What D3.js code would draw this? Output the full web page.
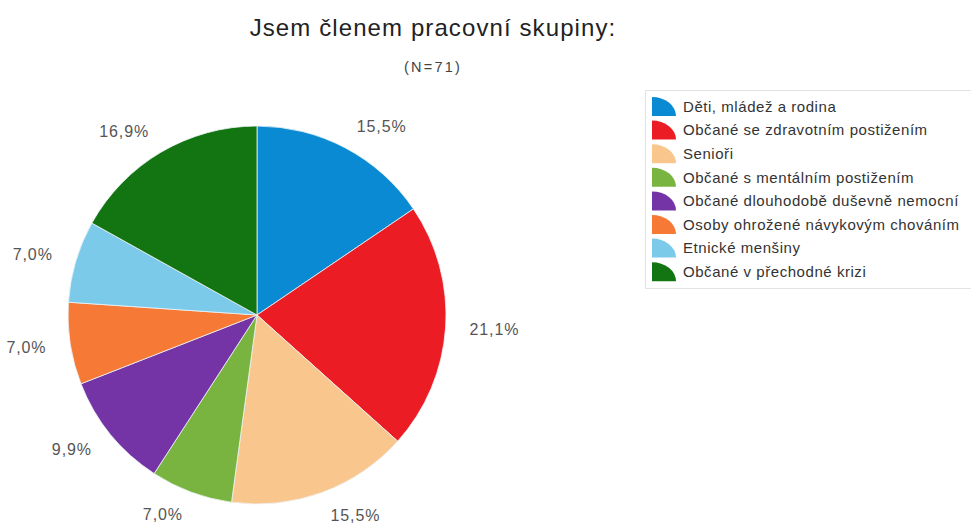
<!DOCTYPE html>
<html>
<head>
<meta charset="utf-8">
<script src="https://cdn.jsdelivr.net/npm/d3@7"></script>
<style>
html, body { margin: 0; padding: 0; background: #fff; }
svg { display: block; font-family: "Liberation Sans", Arial, sans-serif; }
</style>
</head>
<body>
<svg id="chart" width="971" height="528"></svg>
<script>
const title = "Jsem členem pracovní skupiny:";
const subtitle = "(N=71)";
const categories = [
  "Děti, mládež a rodina",
  "Občané se zdravotním postižením",
  "Senioři",
  "Občané s mentálním postižením",
  "Občané dlouhodobě duševně nemocní",
  "Osoby ohrožené návykovým chováním",
  "Etnické menšiny",
  "Občané v přechodné krizi"
];
const percents = [15.5, 21.1, 15.5, 7.0, 9.9, 7.0, 7.0, 16.9];
const colors = ["#0a8ad2", "#ec1c24", "#f9c78d", "#79b441", "#7534a6", "#f67a36", "#7bcaea", "#127512"];

const svg = d3.select("#chart");
const cx = 257, cy = 315, R = 189, labelR = 213;

svg.append("text").attr("x", 433).attr("y", 36).attr("text-anchor", "middle")
  .attr("font-size", 24).attr("letter-spacing", 1.1).attr("fill", "#222").text(title);
svg.append("text").attr("x", 433).attr("y", 72).attr("text-anchor", "middle")
  .attr("font-size", 14.5).attr("letter-spacing", 2.2).attr("fill", "#444").text(subtitle);

const color = d3.scaleOrdinal().domain(categories).range(colors);
const data = categories.map((c, i) => ({ cat: c, value: percents[i] }));
const pie = d3.pie().value(d => d.value).sort(null);
const arcs = pie(data);
const arc = d3.arc().innerRadius(0).outerRadius(R);

const g = svg.append("g").attr("transform", `translate(${cx},${cy})`);
g.selectAll("path.slice").data(arcs).enter().append("path")
  .attr("class", "slice")
  .attr("d", arc)
  .attr("fill", d => color(d.data.cat))
  .attr("stroke", "#eef4f6").attr("stroke-width", 0.8);

const fmt = v => v.toFixed(1).replace(".", ",") + "%";
g.selectAll("text.lbl").data(arcs).enter().append("text")
  .attr("class", "lbl")
  .each(function(d) {
    const a = (d.startAngle + d.endAngle) / 2;
    const x = labelR * Math.sin(a), y = -labelR * Math.cos(a);
    d3.select(this).attr("x", x).attr("y", y)
      .attr("text-anchor", Math.sin(a) >= 0 ? "start" : "end");
  })
  .attr("dy", "0.35em")
  .attr("font-size", 16).attr("letter-spacing", 0.9).attr("fill", "#555")
  .text(d => fmt(d.data.value));

// legend
const lg = svg.append("g").attr("transform", "translate(645,90)");
lg.append("rect").attr("x", 0.5).attr("y", 0.5).attr("width", 400).attr("height", 198)
  .attr("fill", "#fff").attr("stroke", "#e2e2e2");
const rowH = 23.6, iw = 24, ih = 19;
const items = lg.selectAll("g.item").data(categories).enter().append("g")
  .attr("class", "item")
  .attr("transform", (d, i) => `translate(7,${7 + i * rowH})`);
items.append("path")
  .attr("d", `M0,${ih} L0,0 A${iw},${ih} 0 0 1 ${iw},${ih} Z`)
  .attr("fill", d => color(d));
items.append("text").attr("x", 31).attr("y", ih / 2).attr("dy", "0.35em")
  .attr("font-size", 15).attr("letter-spacing", 0.55).attr("fill", "#333").text(d => d);
</script>
</body>
</html>
